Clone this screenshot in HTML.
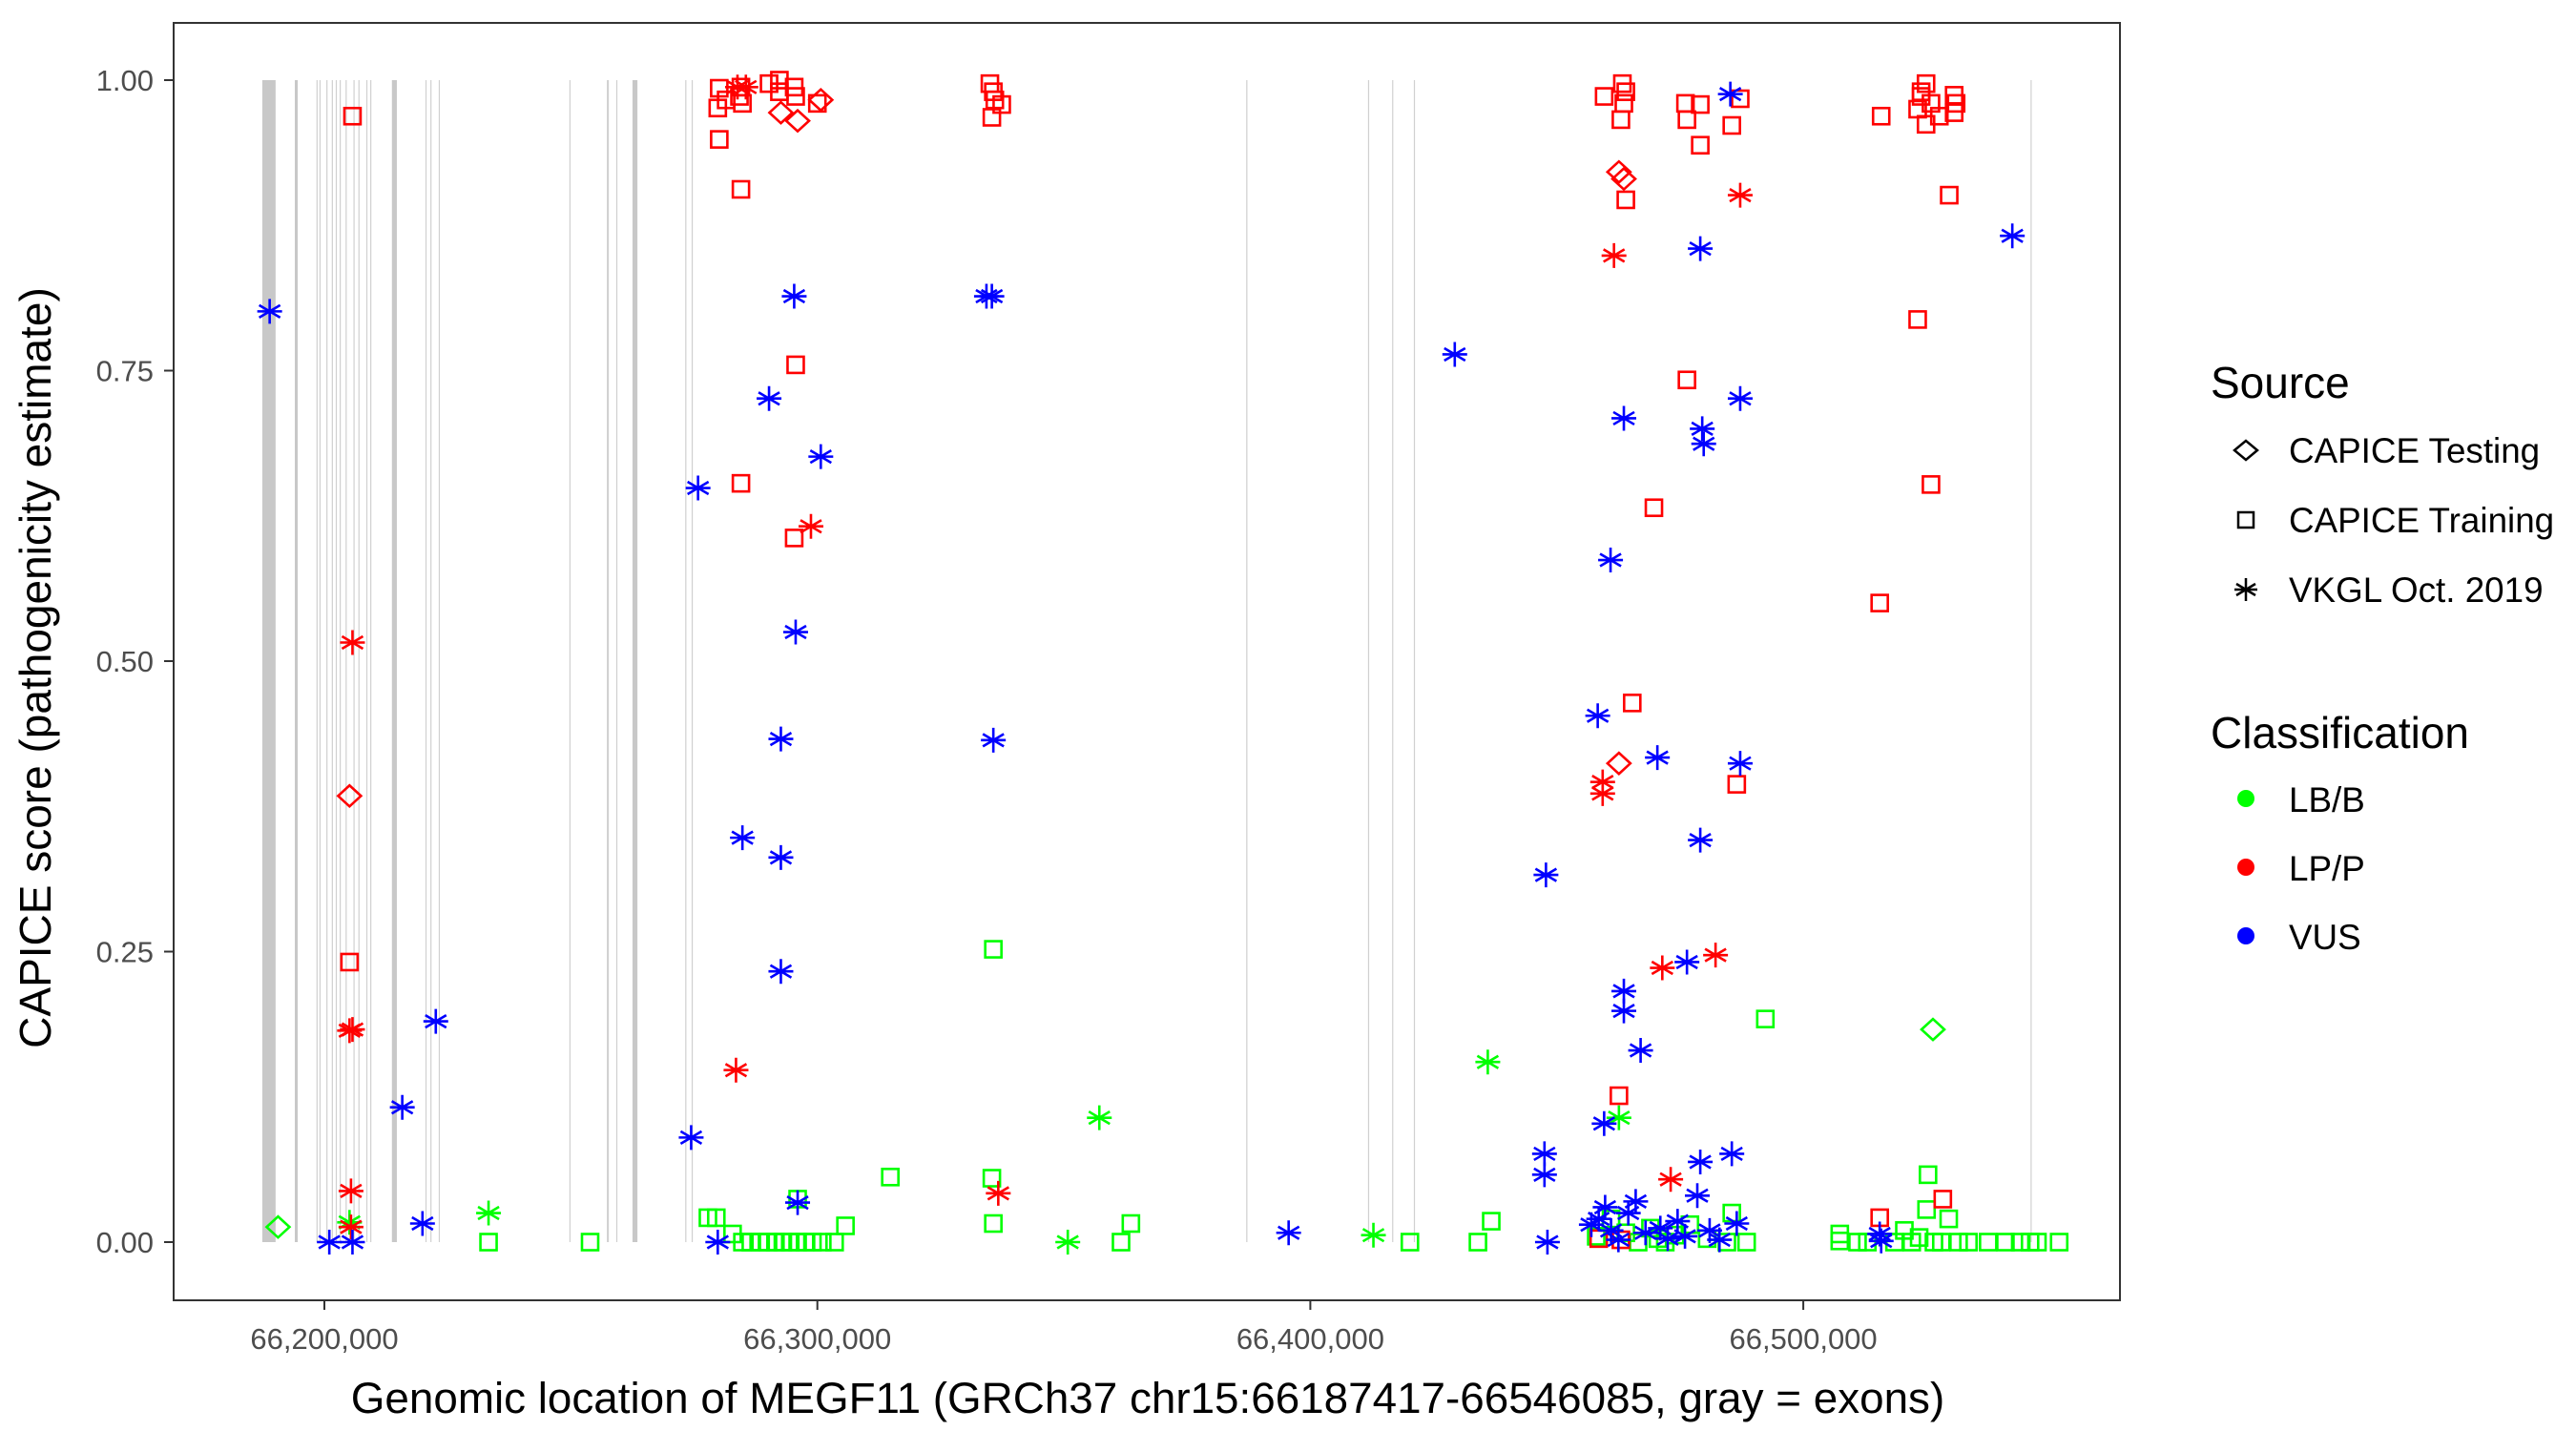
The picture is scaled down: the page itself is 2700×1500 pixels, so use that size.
<!DOCTYPE html>
<html><head><meta charset="utf-8"><style>
html,body{margin:0;padding:0;background:#fff;}
svg{display:block;font-family:"Liberation Sans",Arial,sans-serif;}
</style></head><body>
<svg id="chart" width="2700" height="1500" viewBox="0 0 2700 1500" xmlns="http://www.w3.org/2000/svg">
<rect x="0" y="0" width="2700" height="1500" fill="#fff"/>
<g id="exons"></g>
<g id="points"></g>
<rect x="182" y="24" width="2040" height="1339" fill="none" stroke="#333" stroke-width="2"/>
<g id="axes"></g>
<text x="1203" y="1481" font-size="45.8" text-anchor="middle" fill="#000">Genomic location of MEGF11 (GRCh37 chr15:66187417-66546085, gray = exons)</text>
<text transform="translate(53,700) rotate(-90)" font-size="46" text-anchor="middle" fill="#000">CAPICE score (pathogenicity estimate)</text>
<g id="legend">
<text x="2317" y="417" font-size="46" fill="#000">Source</text>
<g>
<path d="M2342 472 L2354 462 L2366 472 L2354 482 Z" fill="none" stroke="#000" stroke-width="2.5"/>
<text x="2399" y="485" font-size="36.8" fill="#000">CAPICE Testing</text></g>
<g>
<rect x="2346" y="537" width="16" height="16" fill="none" stroke="#000" stroke-width="2.5"/>
<text x="2399" y="558" font-size="36.8" fill="#000">CAPICE Training</text></g>
<g>
<path d="M2354 606 V630 M2344 612 L2364 624 M2344 624 L2364 612 M2342 618 H2366" stroke="#000" stroke-width="2.5"/>
<text x="2399" y="631" font-size="36.8" fill="#000">VKGL Oct. 2019</text></g>
<text x="2317" y="784" font-size="46" fill="#000">Classification</text>
<g><circle cx="2354" cy="837" r="9" fill="#00ff00"/><text x="2399" y="851" font-size="36.8" fill="#000">LB/B</text></g>
<g><circle cx="2354" cy="909" r="9" fill="#ff0000"/><text x="2399" y="923" font-size="36.8" fill="#000">LP/P</text></g>
<g><circle cx="2354" cy="981" r="9" fill="#0000ff"/><text x="2399" y="995" font-size="36.8" fill="#000">VUS</text></g>
</g>
</svg>
<script>
// ---- axis data ----
const xTicks = [66200000, 66300000, 66400000, 66500000];
const xTickLabels = ["66,200,000","66,300,000","66,400,000","66,500,000"];
const yTicks = [0, 0.25, 0.5, 0.75, 1.0];
const yTickLabels = ["0.00","0.25","0.50","0.75","1.00"];
// exon regions (kb offset from 66,200,000)
const exonStart = [-12.6,-6.0,-1.6,-1.0,0.4,1.5,2.3,3.1,4.3,5.9,6.9,8.5,9.3,13.7,20.5,21.5,23.2,49.7,57.3,59.2,62.5,73.2,74.5,187.0,211.7,216.6,221.0,346.1];
const exonEnd   = [-9.9,-5.4,-1.5,-0.9,0.5,1.6,2.4,3.2,4.4,6.0,7.0,8.6,9.4,14.7,20.6,21.6,23.3,49.8,57.7,59.3,63.5,73.3,74.6,187.1,211.8,216.7,221.1,346.2];

// ---- series: positions (kb offset from 66,200,000) and scores ----
// CAPICE Training, LP/P
const trainLPPos = [80.1,79.8,80.1,81.5,84.2,84.5,84.8,90.2,92.3,92.3,95.3,95.6,100.0,84.5,5.7,95.6,84.5,95.3,5.1,135.0,135.7,136.0,137.4,135.4,259.6,263.3,264.0,263.6,263.0,264.0,276.1,276.4,279.1,279.1,285.5,287.2,265.3,262.6,276.4,269.7,286.5,315.8,323.2,325.9,315.5,329.6,323.9,324.9,323.9,325.9,323.2,324.9,330.6,331.0,330.6,327.6,315.5,328.3,258.5,263.0];
const trainLPScore = [.993,.976,.949,.983,.986,.994,.980,.997,1.0,.990,.994,.986,.980,.906,.969,.755,.653,.606,.241,.997,.990,.983,.979,.968,.986,.997,.990,.980,.966,.897,.980,.966,.979,.944,.961,.984,.464,.126,.742,.632,.394,.969,.794,.652,.550,.901,.990,.997,.986,.980,.975,.962,.987,.980,.972,.969,.021,.037,.003,.002];
// CAPICE Testing, LP/P
const testLPPos = [92.6,96.0,100.7,5.1,262.6,263.6,262.6];
const testLPScore = [.972,.965,.983,.384,.921,.915,.412];
// VKGL, LP/P
const vkglLPPos = [83.8,85.5,98.7,5.7,5.1,5.7,5.4,5.4,83.5,136.7,261.6,287.2,259.3,259.3,271.4,282.2,273.1];
const vkglLPScore = [.994,.994,.616,.516,.182,.183,.044,.013,.148,.042,.849,.901,.396,.386,.236,.247,.054];
// VKGL, VUS
const vkglVUSPos = [-11.1,15.8,22.6,19.9,1.0,5.7,75.8,74.4,84.8,90.2,92.6,92.6,92.6,95.3,95.6,96.0,100.7,79.8,134.3,135.4,135.7,195.6,229.3,247.8,247.5,247.5,248.1,258.3,259.6,260.9,263.6,263.6,263.6,267.0,270.4,276.4,279.5,279.8,279.1,279.1,279.1,285.2,285.5,287.2,287.2,286.5,342.4,315.8,315.5,257.0,258.5,259.8,261.0,262.5,264.5,266.0,268.0,271.0,272.5,274.5,276.0,278.5,281.0,283.0];
const vkglVUSScore = [.801,.116,.190,.016,0,0,.649,.090,.348,.726,.433,.331,.233,.814,.525,.034,.676,0,.814,.814,.432,.008,.764,.316,.076,.058,0,.453,.102,.587,.709,.216,.199,.165,.417,.241,.700,.687,.855,.346,.069,.988,.076,.726,.412,.016,.866,.001,.007,.015,.020,.030,.010,.002,.025,.035,.008,.012,.003,.018,.005,.040,.010,.002];
// VKGL, LB/B
const vkglLBPos = [5.1,33.3,150.8,157.2,212.8,236.0,262.6];
const vkglLBScore = [.017,.025,0,.107,.006,.155,.107];
// CAPICE Testing, LB/B
const testLBPos = [-9.4,326.3];
const testLBScore = [.013,.183];
// CAPICE Training, LB/B
const trainLBPos = [33.3,53.9,79.5,77.8,82.8,84.8,86.5,88.5,90.0,91.5,93.0,94.5,96.0,97.5,99.0,101.0,103.5,96.0,105.7,114.8,135.4,135.7,135.7,161.6,163.6,220.2,236.7,234.0,292.3,325.3,307.4,307.4,311.0,313.0,318.5,320.5,322.0,323.5,325.0,326.5,328.0,329.5,331.5,333.5,337.5,341.0,344.0,346.0,347.5,351.9,258.0,261.0,264.0,266.5,269.0,270.5,272.0,274.0,277.0,280.5,284.5,285.5,288.5];
const trainLBScore = [0,0,.021,.021,.007,0,0,0,0,0,0,0,0,0,0,0,0,.037,.014,.056,.055,.252,.016,0,.016,0,.018,0,.192,.058,.007,.001,0,0,0,.010,0,.004,.028,0,0,.020,0,0,0,0,0,0,0,0,.005,.020,.008,0,.012,.003,0,.006,.015,.003,0,.025,0];

const series = [
  {name:'training-lb-b', pos: trainLBPos, val: trainLBScore, shape:'square', color:'#00ff00'},
  {name:'testing-lb-b', pos: testLBPos, val: testLBScore, shape:'diamond', color:'#00ff00'},
  {name:'vkgl-lb-b', pos: vkglLBPos, val: vkglLBScore, shape:'star', color:'#00ff00'},
  {name:'training-lp-p', pos: trainLPPos, val: trainLPScore, shape:'square', color:'#ff0000'},
  {name:'testing-lp-p', pos: testLPPos, val: testLPScore, shape:'diamond', color:'#ff0000'},
  {name:'vkgl-lp-p', pos: vkglLPPos, val: vkglLPScore, shape:'star', color:'#ff0000'},
  {name:'vkgl-vus', pos: vkglVUSPos, val: vkglVUSScore, shape:'star', color:'#0000ff'}
];

// ---- scales ----
const X0 = 340, PX_PER_KB = 5.167;
function xScale(kbOff){ return X0 + kbOff * PX_PER_KB; }
function xScaleGen(g){ return xScale((g - 66200000)/1000); }
const Y0 = 1302, Y1 = 84;
function yScale(v){ return Y0 - v * (Y0 - Y1); }

const NS = 'http://www.w3.org/2000/svg';
function mk(tag, attrs, parent){ const e = document.createElementNS(NS, tag); for (const k in attrs) e.setAttribute(k, attrs[k]); parent.appendChild(e); return e; }

// exons
const exG = document.getElementById('exons');
for (let i = 0; i < exonStart.length; i++) {
  const x1 = xScale(exonStart[i]), x2 = xScale(exonEnd[i]);
  const w = Math.max(1.2, x2 - x1);
  const r = mk('rect', {x: x1, y: Y1, width: w, height: Y0 - Y1, fill: w > 3 ? '#c8c8c8' : '#d0d0d0'}, exG);
  
  
}

// axes
const ax = document.getElementById('axes');
for (let i = 0; i < xTicks.length; i++) {
  const x = xScaleGen(xTicks[i]);
  const t = mk('line', {x1: x, x2: x, y1: 1363, y2: 1373, stroke: '#333', 'stroke-width': 2}, ax);
  
  
  const l = mk('text', {x: x, y: 1414, 'font-size': 31, 'text-anchor': 'middle', fill: '#4d4d4d'}, ax);
  l.textContent = xTickLabels[i];
  
  
}
for (let i = 0; i < yTicks.length; i++) {
  const y = yScale(yTicks[i]);
  const t = mk('line', {x1: 172, x2: 182, y1: y, y2: y, stroke: '#333', 'stroke-width': 2}, ax);
  
  
  const l = mk('text', {x: 161, y: y + 11, 'font-size': 31, 'text-anchor': 'end', fill: '#4d4d4d'}, ax);
  l.textContent = yTickLabels[i];
  
  
}

// points
const pg = document.getElementById('points');
for (const s of series) {
  const n = Math.min(s.pos.length, s.val.length);
  for (let i = 0; i < n; i++) {
    const cx = xScale(s.pos[i]), cy = yScale(s.val[i]);
    const col = s.color;
    let el;
    if (s.shape === 'square') {
      el = mk('rect', {x: cx - 8.5, y: cy - 8.5, width: 17, height: 17, fill: 'none', stroke: col, 'stroke-width': 2.6}, pg);
    } else if (s.shape === 'diamond') {
      el = mk('path', {d: `M${cx-12} ${cy} L${cx} ${cy-11} L${cx+12} ${cy} L${cx} ${cy+11} Z`, fill: 'none', stroke: col, 'stroke-width': 2.6}, pg);
    } else {
      el = mk('path', {d: `M${cx} ${cy-13} V${cy+13} M${cx-11} ${cy-6.5} L${cx+11} ${cy+6.5} M${cx-11} ${cy+6.5} L${cx+11} ${cy-6.5} M${cx-13} ${cy} H${cx+13}`, fill: 'none', stroke: col, 'stroke-width': 2.6}, pg);
    }
    
    
  }
}
</script>
</body></html>
